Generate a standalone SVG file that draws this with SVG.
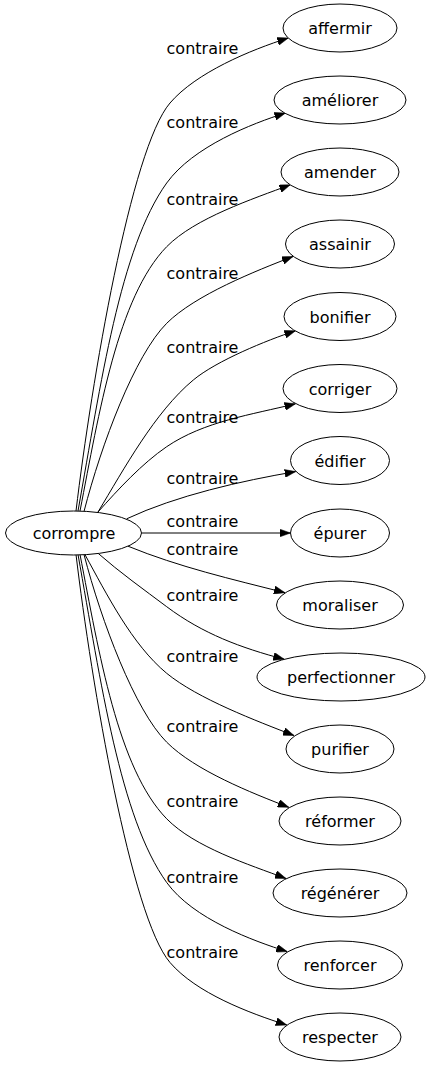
<svg xmlns="http://www.w3.org/2000/svg" width="428" height="1067" viewBox="0 0 428 1067">
<style>
.n ellipse{fill:#fff;stroke:#000;stroke-width:1}
text{font-family:"DejaVu Sans",sans-serif;font-size:16px;fill:#000;text-anchor:middle}
.e path{fill:none;stroke:#000;stroke-width:1;marker-end:url(#a)}
</style>
<defs>
<marker id="a" markerUnits="userSpaceOnUse" markerWidth="11" markerHeight="8" viewBox="0 0 11 8" refX="11" refY="4" orient="auto"><path d="M0,0 L11,4 L0,8 z" fill="#000" stroke="#000" stroke-width="0.5"/></marker>
</defs>
<rect width="428" height="1067" fill="#fff"/>
<g id="edges" class="e">
<path d="M76,511 C91.6,381 131,148.6 170,103 C196,72.6 250.3,50 288.3,38"/>
<path d="M78,511 C101,383 120,248 166.7,183 C193,146.5 252.1,123.5 285.5,113"/>
<path d="M80,511 C99,413 117.8,296.8 166.7,246.7 C194.7,218.1 252.9,198.9 290.3,184.8"/>
<path d="M84,511.5 C101.5,443.6 134.9,355.1 166.7,323.3 C195,295 255.7,270.9 293,256.5"/>
<path d="M98,512 C123.9,469.2 154.8,412 193.3,380 C216.4,360.8 266.5,340.3 295.5,330.8"/>
<path d="M98,512 C118,489.6 141.9,463.6 166.7,446.7 C203.9,421.4 251.8,414.6 295.5,403.8"/>
<path d="M126.7,518.8 C176.5,495.4 241.5,480.9 295.7,471.6"/>
<path d="M141.5,533 L290.5,533"/>
<path d="M128,546.2 C178.9,567 231.7,579.2 285,592.7"/>
<path d="M98.3,553.5 C119.3,572 144.3,589.9 166.7,606.7 C202.7,633.7 240.8,647.8 284.3,659.3"/>
<path d="M85,554.7 C106.7,594.1 132,644.7 166.7,673.3 C197.6,698.7 256.7,721 294,735.5"/>
<path d="M84,554.5 C101.5,621.9 134.9,710.4 166.7,742.2 C195,770.5 251.5,792.9 288.8,807.3"/>
<path d="M80,554.5 C99,652.5 117.8,768.7 166.7,818.8 C194.7,847.4 248.6,864.4 286,878.5"/>
<path d="M78,554.5 C101,682.5 120,817.5 166.7,882.5 C193,919 253.8,941.1 287.2,951.6"/>
<path d="M76,554.5 C91.6,684.5 131,916.9 170,962.5 C196,992.9 248.8,1013 286.8,1025"/>
</g>
<g id="edge-labels">
<text x="202.5" y="54">contraire</text>
<text x="202.5" y="128">contraire</text>
<text x="202.5" y="205">contraire</text>
<text x="202.5" y="279">contraire</text>
<text x="202.5" y="353">contraire</text>
<text x="202.5" y="423">contraire</text>
<text x="202.5" y="484">contraire</text>
<text x="202.5" y="527">contraire</text>
<text x="202.5" y="555">contraire</text>
<text x="202.5" y="601">contraire</text>
<text x="202.5" y="662">contraire</text>
<text x="202.5" y="732">contraire</text>
<text x="202.5" y="807">contraire</text>
<text x="202.5" y="883">contraire</text>
<text x="202.5" y="958">contraire</text>
</g>
<g id="node-corrompre" class="n"><ellipse cx="73.5" cy="533" rx="68" ry="22"/><text x="74" y="538.5">corrompre</text></g>
<g id="node-affermir" class="n"><ellipse cx="340" cy="28" rx="57" ry="24"/><text x="340" y="34">affermir</text></g>
<g id="node-ameliorer" class="n"><ellipse cx="340" cy="100" rx="66" ry="24"/><text x="340" y="106">améliorer</text></g>
<g id="node-amender" class="n"><ellipse cx="340" cy="172" rx="59" ry="24"/><text x="340" y="178">amender</text></g>
<g id="node-assainir" class="n"><ellipse cx="340" cy="244" rx="54.5" ry="24"/><text x="340" y="250">assainir</text></g>
<g id="node-bonifier" class="n"><ellipse cx="340" cy="316.5" rx="56" ry="24"/><text x="340" y="322.5">bonifier</text></g>
<g id="node-corriger" class="n"><ellipse cx="340" cy="388.5" rx="57" ry="24"/><text x="340" y="394.5">corriger</text></g>
<g id="node-edifier" class="n"><ellipse cx="340" cy="460.5" rx="49.5" ry="24"/><text x="340" y="466.5">édifier</text></g>
<g id="node-epurer" class="n"><ellipse cx="340" cy="533" rx="49.5" ry="24"/><text x="340" y="539">épurer</text></g>
<g id="node-moraliser" class="n"><ellipse cx="340" cy="605" rx="63.5" ry="24"/><text x="340" y="611">moraliser</text></g>
<g id="node-perfectionner" class="n"><ellipse cx="341" cy="677" rx="84" ry="24"/><text x="341" y="683">perfectionner</text></g>
<g id="node-purifier" class="n"><ellipse cx="340" cy="749" rx="54" ry="24"/><text x="340" y="755">purifier</text></g>
<g id="node-reformer" class="n"><ellipse cx="340" cy="821" rx="61" ry="24"/><text x="340" y="827">réformer</text></g>
<g id="node-regenerer" class="n"><ellipse cx="340" cy="893" rx="67" ry="24"/><text x="340" y="899">régénérer</text></g>
<g id="node-renforcer" class="n"><ellipse cx="340" cy="965" rx="62.5" ry="24"/><text x="340" y="971">renforcer</text></g>
<g id="node-respecter" class="n"><ellipse cx="340" cy="1037" rx="61" ry="24"/><text x="340" y="1043">respecter</text></g>
</svg>
